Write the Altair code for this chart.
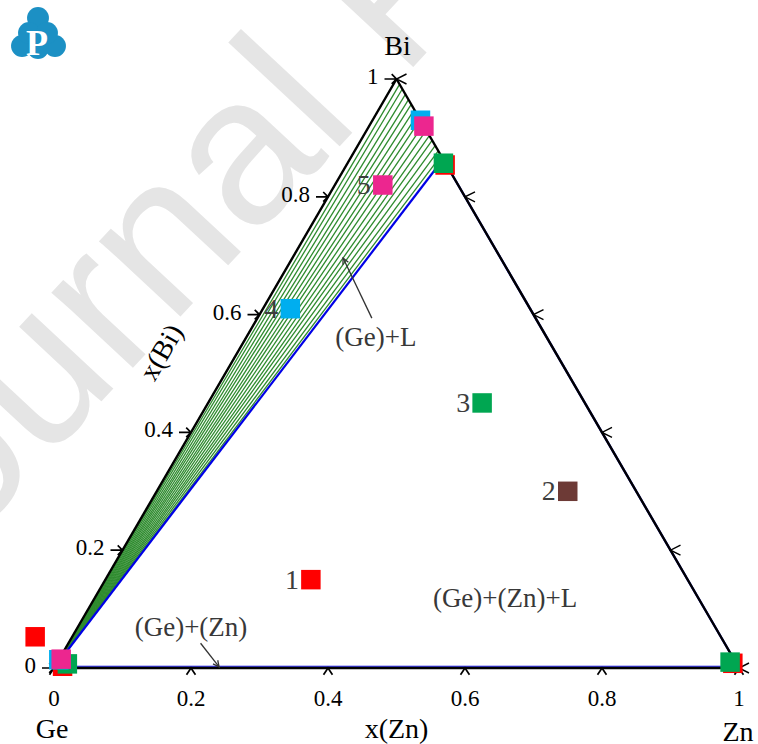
import math
import altair as alt
import pandas as pd

# ---------------- data (mole fractions x(Zn), x(Bi)) ----------------
sample_ids = ["1", "2", "3", "4", "5"]
sample_zn = [0.30, 0.60, 0.40, 0.04, 0.07]
sample_bi = [0.15, 0.30, 0.45, 0.61, 0.82]
sample_colors = ["#ff0000", "#6d3a36", "#00a651", "#00aeef", "#ec268f"]

# measured phase compositions, grouped by sample
phase_sample = ["1", "1", "1", "1", "3", "3", "3", "4", "4", "5", "5"]
phase_zn = [-0.054, 0.011, 0.987, 0.144, 0.016, 0.982, 0.140, 0.000, 0.070, 0.003, 0.080]
phase_bi = [0.053, 0.003, 0.008, 0.854, 0.007, 0.010, 0.857, 0.014, 0.930, 0.015, 0.920]

# liquid ends of the (Ge)+L tie-lines on the Bi-Zn side
tie_liquid_bi = [1.000, 0.991, 0.983, 0.974, 0.965, 0.957, 0.948, 0.939,
                 0.931, 0.922, 0.913, 0.904, 0.896, 0.887, 0.878, 0.870]
# liquid corner of the (Ge)+(Zn)+L triangle, and its end on the Bi-Zn edge
liquid_3ph = (0.135, 0.857)
liquid_edge = (0.143, 0.857)

tick_values = [0.0, 0.2, 0.4, 0.6, 0.8, 1.0]
tick_labels = ["0", "0.2", "0.4", "0.6", "0.8", "1"]

# ---------------- geometry ----------------
W, H = 758, 744
SX, SY = 685.0, 589.0          # pixels per unit along the two plot axes
X_DOM = [-54 / SX, (W - 54) / SX]
Y_DOM = [-(H - 668) / SY, 668 / SY]
SERIF = "Liberation Serif"


def tern(zn, bi):
    """Ternary composition -> plot coordinates (Ge at origin, Zn at (1,0), Bi at (0.5,1))."""
    return zn + bi / 2.0, bi


def screen(px, py):
    """Page position -> plot coordinates (for page decorations)."""
    return (px - 54) / SX, (668 - py) / SY


xs = alt.Scale(domain=X_DOM, nice=False, zero=False)
ys = alt.Scale(domain=Y_DOM, nice=False, zero=False)


def X(f="x"):
    return alt.X(f"{f}:Q", scale=xs, axis=None)


def Y(f="y"):
    return alt.Y(f"{f}:Q", scale=ys, axis=None)


# ---------------- tables ----------------
samples = pd.DataFrame(
    [dict(zip(("x", "y"), tern(z, b)), sample=s, label=s)
     for s, z, b in zip(sample_ids, sample_zn, sample_bi)])
phases = pd.DataFrame(
    [dict(zip(("x", "y"), tern(z, b)), sample=s)
     for s, z, b in zip(phase_sample, phase_zn, phase_bi)])
squares = pd.concat([samples[["x", "y", "sample"]], phases], ignore_index=True)
squares["order"] = squares["sample"].map({s: i for i, s in enumerate(sample_ids)})
squares = squares.sort_values("order", kind="stable")

ge = tern(0, 0)
zn_c = tern(1, 0)
bi_c = tern(0, 1)

ties = pd.DataFrame([
    {"x": ge[0], "y": ge[1], "x2": tern(1 - b, b)[0], "y2": tern(1 - b, b)[1]}
    for b in tie_liquid_bi])

l3 = tern(*liquid_3ph)
le = tern(*liquid_edge)
blue = pd.DataFrame([
    {"x": ge[0], "y": ge[1], "x2": l3[0], "y2": l3[1]},
    {"x": l3[0], "y": l3[1], "x2": le[0], "y2": le[1]},
    {"x": zn_c[0], "y": zn_c[1], "x2": le[0], "y2": le[1]},
])
blue_base = pd.DataFrame([{"x": ge[0], "y": 0.003, "x2": zn_c[0], "y2": 0.003}])

edges = pd.DataFrame([
    {"x": ge[0], "y": ge[1], "x2": zn_c[0], "y2": zn_c[1]},
    {"x": zn_c[0], "y": zn_c[1], "x2": bi_c[0], "y2": bi_c[1]},
    {"x": bi_c[0], "y": bi_c[1], "x2": ge[0], "y2": ge[1]},
])

left_ticks = pd.DataFrame([dict(zip(("x", "y"), tern(0, t)), label=l)
                           for t, l in zip(tick_values, tick_labels)])
bottom_ticks = pd.DataFrame([dict(zip(("x", "y"), tern(t, 0)), label=l)
                             for t, l in zip(tick_values, tick_labels)])
right_ticks = pd.DataFrame([dict(zip(("x", "y"), tern(1 - t, t)))
                            for t in tick_values])

# ---------------- layers ----------------
layers = []

# watermark
wm = screen(-108, 626)
layers.append(
    alt.Chart(pd.DataFrame([{"x": wm[0], "y": wm[1], "t": "Journal Pre-proof"}]))
    .mark_text(font="Liberation Sans", fontSize=210, color="#e5e5e5", angle=313,
               align="left", baseline="alphabetic")
    .encode(x=X(), y=Y(), text="t:N"))

# logo
logo_pts = [screen(px, py) for px, py in
            [(38, 18), (22, 46), (55, 46), (29, 33), (47, 33), (38, 48)]]
layers.append(
    alt.Chart(pd.DataFrame([{"x": a, "y": b} for a, b in logo_pts]))
    .mark_circle(size=480, color="#1c90c4", opacity=1)
    .encode(x=X(), y=Y()))
lp = screen(37, 44)
layers.append(
    alt.Chart(pd.DataFrame([{"x": lp[0], "y": lp[1], "t": "P"}]))
    .mark_text(font=SERIF, fontWeight="bold", fontSize=36, color="white",
               baseline="middle", align="center")
    .encode(x=X(), y=Y(), text="t:N"))

# tie-lines, three-phase boundary, triangle frame
layers.append(alt.Chart(ties).mark_rule(color="#2e8b2e", strokeWidth=1.3)
              .encode(x=X(), y=Y(), x2="x2:Q", y2="y2:Q"))
layers.append(alt.Chart(blue_base).mark_rule(color="#0000e6", strokeWidth=1.2)
              .encode(x=X(), y=Y(), x2="x2:Q", y2="y2:Q"))
layers.append(alt.Chart(blue).mark_rule(color="#0000e6", strokeWidth=2.2)
              .encode(x=X(), y=Y(), x2="x2:Q", y2="y2:Q"))
layers.append(alt.Chart(edges).mark_rule(color="black", strokeWidth=2.4)
              .encode(x=X(), y=Y(), x2="x2:Q", y2="y2:Q"))

# tick glyphs
layers.append(alt.Chart(left_ticks).mark_point(
    shape="M-1.5,0L0,0M-0.6,-0.6L0,0L-0.6,0.6", size=256, filled=False,
    color="black", strokeWidth=1.7, opacity=1).encode(x=X(), y=Y()))
layers.append(alt.Chart(bottom_ticks).mark_point(
    shape="M-0.56,0.84L0,0L0.56,0.84", size=256, filled=False,
    color="black", strokeWidth=1.7, opacity=1).encode(x=X(), y=Y()))
layers.append(alt.Chart(right_ticks).mark_point(
    shape="M1,-0.5L0,0L1,0.5", size=400, filled=False,
    color="black", strokeWidth=1.4, opacity=1).encode(x=X(), y=Y()))

# tick labels
layers.append(alt.Chart(left_ticks).mark_text(
    font=SERIF, fontSize=23, color="black", align="right", baseline="middle",
    dx=-18, dy=-2).encode(x=X(), y=Y(), text="label:N"))
layers.append(alt.Chart(bottom_ticks).mark_text(
    font=SERIF, fontSize=23, color="black", align="center", baseline="middle",
    dy=31).encode(x=X(), y=Y(), text="label:N"))

# component and axis titles
titles = pd.DataFrame([
    {"x": bi_c[0], "y": bi_c[1], "t": "Bi", "dx": 1, "dy": -32},
    {"x": ge[0], "y": ge[1], "t": "Ge", "dx": -2, "dy": 62},
    {"x": zn_c[0], "y": zn_c[1], "t": "Zn", "dx": -1, "dy": 65},
    {"x": tern(0.5, 0)[0], "y": 0, "t": "x(Zn)", "dx": 0, "dy": 62},
])
for _, r in titles.iterrows():
    layers.append(alt.Chart(pd.DataFrame([r.to_dict()])).mark_text(
        font=SERIF, fontSize=28, color="black", align="center", baseline="middle",
        dx=float(r["dx"]), dy=float(r["dy"])).encode(x=X(), y=Y(), text="t:N"))

# x(Bi) title, set off to the left of the Ge-Bi side and turned along it
xb = tern(0, 0.535)
layers.append(alt.Chart(pd.DataFrame([{"x": xb[0] - 75 / SX, "y": xb[1], "t": "x(Bi)"}]))
              .mark_text(font=SERIF, fontSize=28, color="black", align="center",
                         baseline="middle", angle=300)
              .encode(x=X(), y=Y(), text="t:N"))

# phase-region labels with pointer arrows
regions = [
    ("(Ge)+L", (0.19, 0.56)),
    ("(Ge)+(Zn)+L", (0.60, 0.117)),
    ("(Ge)+(Zn)", (0.166, 0.068)),
]
reg_df = pd.DataFrame([dict(zip(("x", "y"), tern(*p)), t=t) for t, p in regions])
layers.append(alt.Chart(reg_df).mark_text(
    font=SERIF, fontSize=27, color="#383838", align="center", baseline="middle")
    .encode(x=X(), y=Y(), text="t:N"))

arrows = [((0.167, 0.594), (0.074, 0.696)), ((0.193, 0.042), (0.240, 0.002))]
arr_rows, head_rows = [], []
for tail, head in arrows:
    tx, ty = tern(*tail)
    hx, hy = tern(*head)
    arr_rows.append({"x": tx, "y": ty, "x2": hx, "y2": hy})
    dxp, dyp = SX * (hx - tx), -SY * (hy - ty)
    head_rows.append({"x": hx, "y": hy,
                      "ang": math.degrees(math.atan2(dxp, -dyp)) % 360})
layers.append(alt.Chart(pd.DataFrame(arr_rows)).mark_rule(color="#333333", strokeWidth=1.3)
              .encode(x=X(), y=Y(), x2="x2:Q", y2="y2:Q"))
layers.append(alt.Chart(pd.DataFrame(head_rows)).mark_point(
    shape="M-0.5,1L0,0L0.5,1", size=144, filled=False, color="#333333",
    strokeWidth=1.3, opacity=1)
    .encode(x=X(), y=Y(), angle=alt.Angle("ang:Q", scale=None)))

# sample and phase squares
layers.append(alt.Chart(squares).mark_square(size=380, opacity=1)
              .encode(x=X(), y=Y(),
                      color=alt.Color("sample:N", legend=None,
                                      scale=alt.Scale(domain=sample_ids, range=sample_colors)),
                      order=alt.Order("order:Q")))
layers.append(alt.Chart(samples).mark_text(
    font=SERIF, fontSize=28, color="#3d3d3d", align="right", baseline="middle",
    dx=-12, dy=1).encode(x=X(), y=Y(), text="label:N"))

chart = (alt.layer(*layers)
         .properties(width=W, height=H, padding=0, autosize="none", background="white")
         .configure_view(stroke=None))

chart.save("out.html", embed_options={"renderer": "svg", "actions": False})
